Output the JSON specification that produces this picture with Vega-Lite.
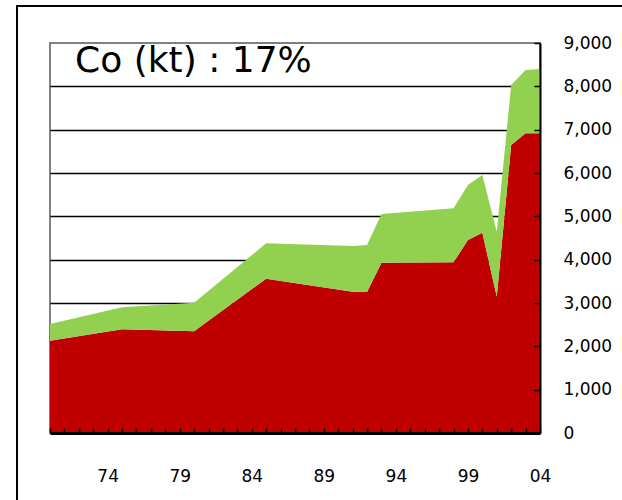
{
  "$schema": "https://vega.github.io/schema/vega-lite/v6.json",
  "width": 490,
  "height": 390,
  "autosize": {"type": "none"},
  "padding": {"left": 50, "top": 43, "right": 82, "bottom": 67},
  "background": "white",
  "config": {"view": {"stroke": "#808080", "strokeWidth": 2}, "font": "DejaVu Sans"},
  "data": {"values": [
    {"year": 1970, "series": "main", "value": 2130}, {"year": 1970, "series": "other", "value": 385},
    {"year": 1975, "series": "main", "value": 2393}, {"year": 1975, "series": "other", "value": 507},
    {"year": 1980, "series": "main", "value": 2346}, {"year": 1980, "series": "other", "value": 661},
    {"year": 1985, "series": "main", "value": 3562}, {"year": 1985, "series": "other", "value": 816},
    {"year": 1991, "series": "main", "value": 3262}, {"year": 1991, "series": "other", "value": 1054},
    {"year": 1992, "series": "main", "value": 3254}, {"year": 1992, "series": "other", "value": 1085},
    {"year": 1993, "series": "main", "value": 3931}, {"year": 1993, "series": "other", "value": 1123},
    {"year": 1998, "series": "main", "value": 3939}, {"year": 1998, "series": "other", "value": 1246},
    {"year": 1999, "series": "main", "value": 4454}, {"year": 1999, "series": "other", "value": 1269},
    {"year": 2000, "series": "main", "value": 4623}, {"year": 2000, "series": "other", "value": 1331},
    {"year": 2001, "series": "main", "value": 3146}, {"year": 2001, "series": "other", "value": 1500},
    {"year": 2002, "series": "main", "value": 6646}, {"year": 2002, "series": "other", "value": 1385},
    {"year": 2003, "series": "main", "value": 6915}, {"year": 2003, "series": "other", "value": 1462},
    {"year": 2004, "series": "main", "value": 6920}, {"year": 2004, "series": "other", "value": 1480}
  ]},
  "resolve": {"axis": {"x": "independent", "y": "independent"}},
  "layer": [
    {
      "mark": {"type": "area", "interpolate": "linear"},
      "encoding": {
        "x": {"field": "year", "type": "quantitative", "scale": {"domain": [1970, 2004], "nice": false, "zero": false}, "axis": null},
        "y": {"field": "value", "type": "quantitative", "stack": "zero", "scale": {"domain": [0, 9000], "nice": false},
          "axis": {"orient": "right", "grid": true, "gridColor": "black", "gridWidth": 1.5, "values": [1000, 2000, 3000, 4000, 5000, 6000, 7000, 8000], "ticks": false, "domain": false, "labels": false, "title": null, "zindex": 0}},
        "color": {"field": "series", "type": "nominal", "scale": {"domain": ["main", "other"], "range": ["#C00000", "#92D050"]}, "legend": null},
        "order": {"field": "series", "sort": "ascending"}
      }
    },
    {
      "data": {"values": [{}]},
      "mark": {"type": "rect", "fillOpacity": 0, "stroke": "black", "strokeWidth": 2, "clip": false},
      "encoding": {
        "x": {"datum": 1967.71, "type": "quantitative", "scale": {"domain": [1970, 2004], "nice": false, "zero": false}, "axis": null},
        "x2": {"datum": 2012},
        "y": {"datum": 9854, "type": "quantitative", "scale": {"domain": [0, 9000], "nice": false}, "axis": null},
        "y2": {"datum": -3000}
      }
    },
    {
      "data": {"values": [{"label": "Co (kt) : 17%"}]},
      "mark": {"type": "text", "align": "left", "baseline": "alphabetic", "font": "DejaVu Sans", "fontSize": 36, "color": "black"},
      "encoding": {
        "x": {"datum": 1971.74, "type": "quantitative", "scale": {"domain": [1970, 2004], "nice": false, "zero": false}, "axis": null},
        "y": {"datum": 8331, "type": "quantitative", "scale": {"domain": [0, 9000], "nice": false}, "axis": null},
        "text": {"field": "label"}
      }
    },
    {
      "mark": {"type": "point", "opacity": 0},
      "encoding": {
        "x": {"field": "year", "type": "quantitative", "scale": {"domain": [1970, 2004], "nice": false, "zero": false},
          "axis": {"orient": "bottom", "values": [1970, 1971, 1972, 1973, 1974, 1975, 1976, 1977, 1978, 1979, 1980, 1981, 1982, 1983, 1984, 1985, 1986, 1987, 1988, 1989, 1990, 1991, 1992, 1993, 1994, 1995, 1996, 1997, 1998, 1999, 2000, 2001, 2002, 2003, 2004],
            "labelExpr": "(datum.value - 1974) % 5 == 0 ? slice(toString(datum.value), 2) : ''",
            "grid": false, "title": null, "tickSize": -5, "tickColor": "black", "tickWidth": 1.5, "domainColor": "black", "domainWidth": 3,
            "labelFontSize": 17, "labelColor": "black", "labelPadding": 40, "labelFlush": false, "labelOverlap": false, "zindex": 1}},
        "y": {"field": "value", "type": "quantitative", "scale": {"domain": [0, 9000], "nice": false},
          "axis": {"orient": "right", "values": [0, 1000, 2000, 3000, 4000, 5000, 6000, 7000, 8000, 9000], "format": ",d",
            "grid": false, "title": null, "tickSize": -6, "tickColor": "black", "tickWidth": 1.5, "domainColor": "black", "domainWidth": 2,
            "labelFontSize": 17, "labelColor": "black", "labelAlign": "left", "labelPadding": 29, "labelFlush": false, "labelOverlap": false, "zindex": 1}}
      }
    }
  ]
}
